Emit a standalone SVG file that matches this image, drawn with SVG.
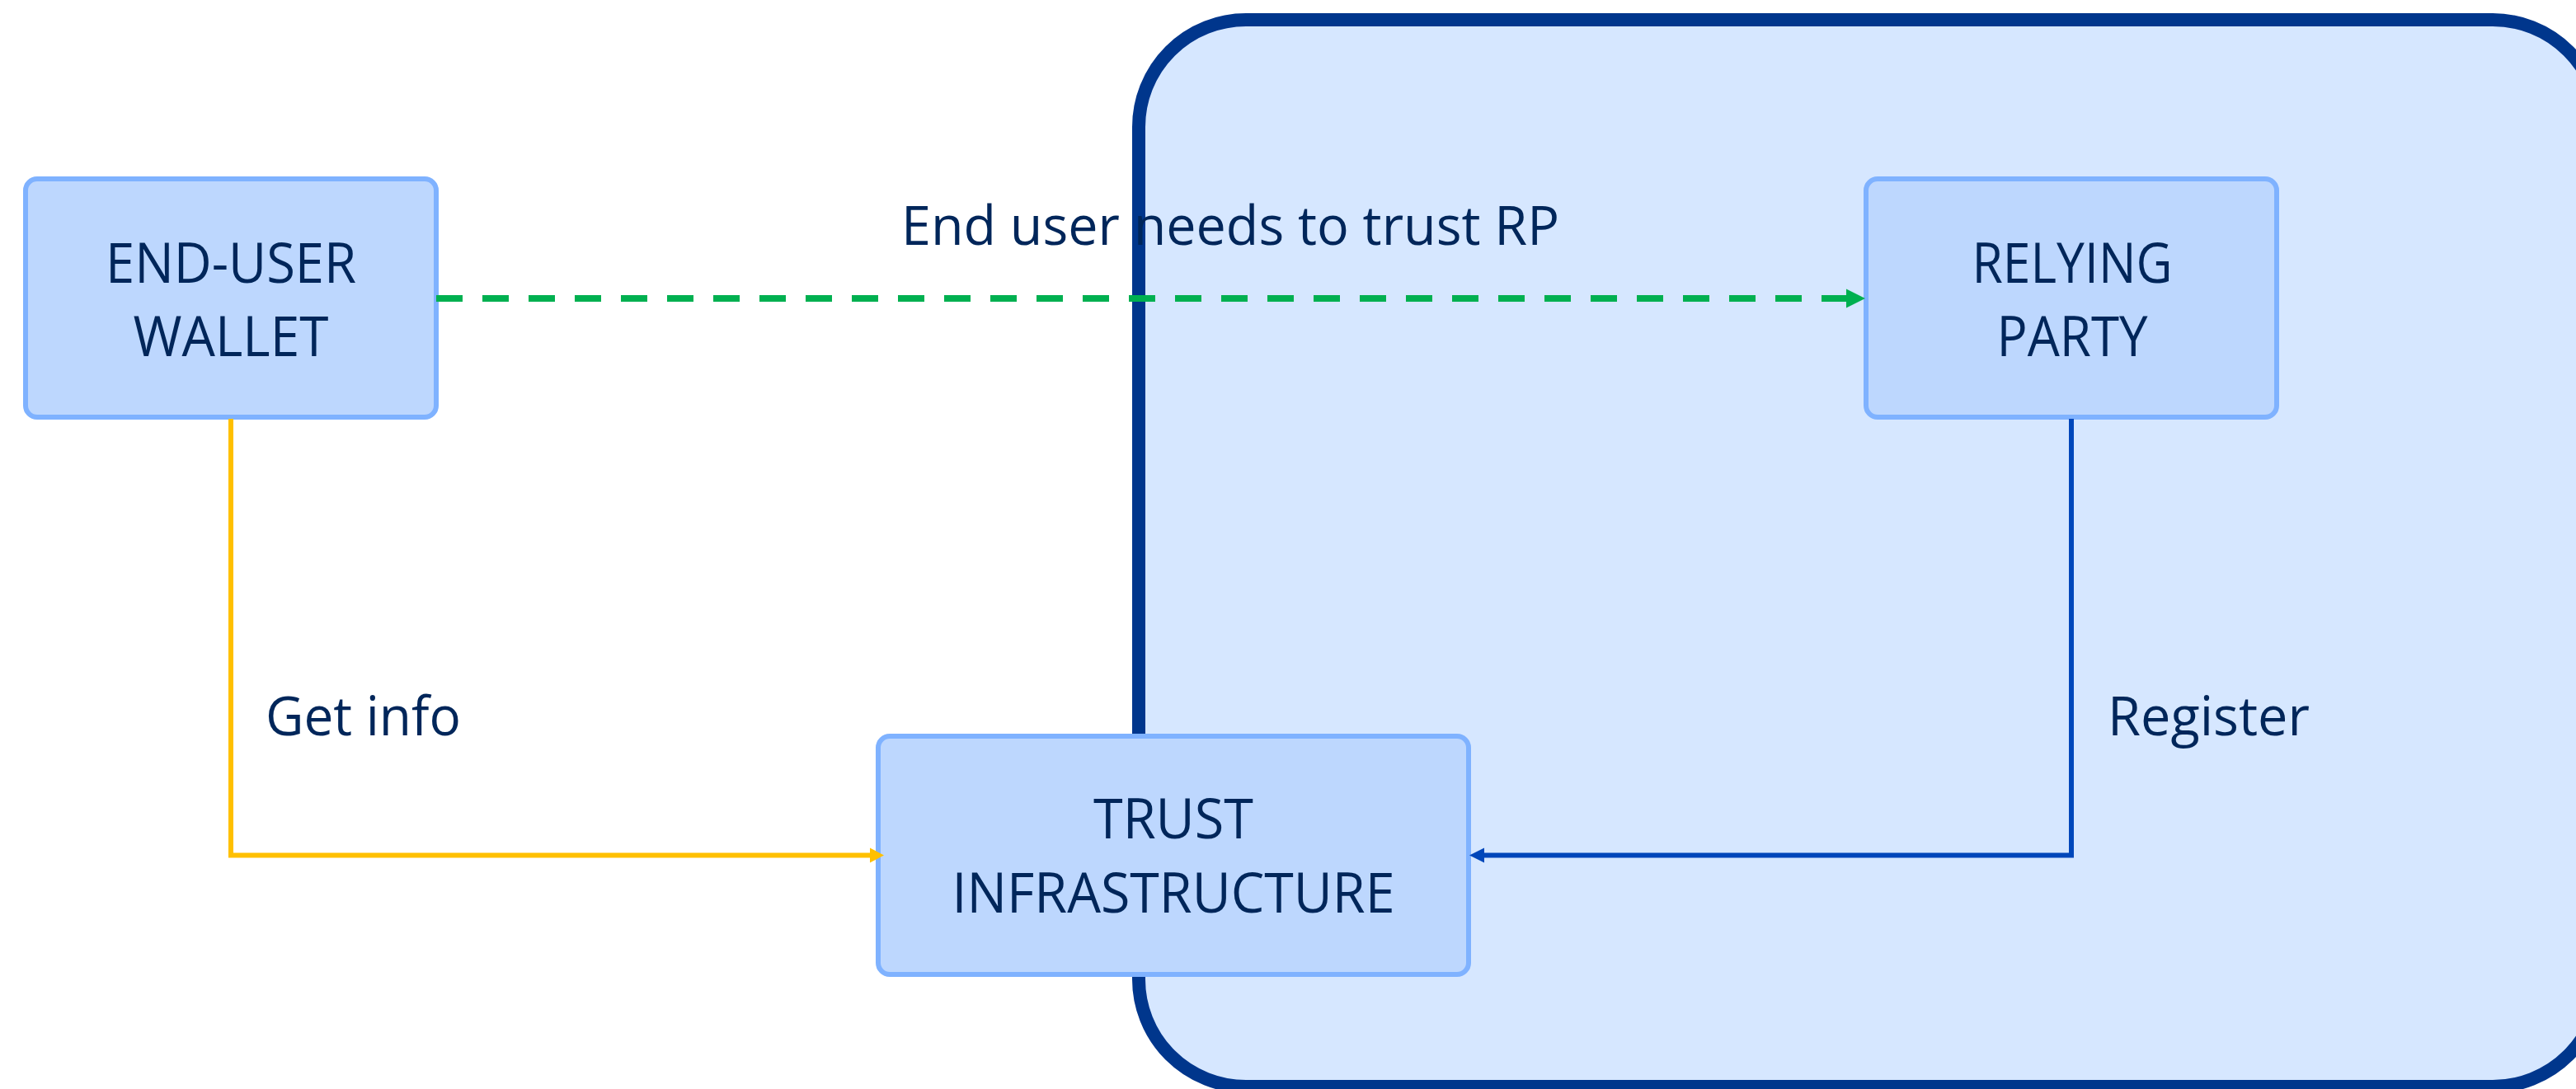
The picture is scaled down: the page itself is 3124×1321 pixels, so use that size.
<svg xmlns="http://www.w3.org/2000/svg" width="3124" height="1321" viewBox="0 0 3124 1321">
  <style>
    .node rect { fill: #BDD7FE; stroke: #7FB2FF; stroke-width: 6; }
    .txt { font-family: "Open Sans", "Noto Sans", "Liberation Sans", sans-serif; fill: #00265A; }
    .ntxt { font-size: 67px; text-anchor: middle; }
    .ltxt { font-size: 66px; }
    .conn { fill: none; }
  </style>
  <defs>
    <marker id="arrGreen" markerUnits="userSpaceOnUse" viewBox="0 -12 24 24" refX="0" refY="0" markerWidth="24" markerHeight="24" orient="auto">
      <path d="M0,-11.5 L23,0 L0,11.5 Z" fill="#00B050"/>
    </marker>
    <marker id="arrYellow" markerUnits="userSpaceOnUse" viewBox="0 -10 18 20" refX="0" refY="0" markerWidth="18" markerHeight="20" orient="auto">
      <path d="M0,-9 L17,0 L0,9 Z" fill="#FFC000"/>
    </marker>
    <marker id="arrBlue" markerUnits="userSpaceOnUse" viewBox="0 -10 18 20" refX="0" refY="0" markerWidth="18" markerHeight="20" orient="auto">
      <path d="M0,-9 L18,0 L0,9 Z" fill="#0047BA"/>
    </marker>
  </defs>

  <rect width="3124" height="1321" fill="#FFFFFF"/>

  <!-- trust domain container -->
  <g id="domain">
    <rect x="1381" y="24" width="1772" height="1294" rx="130" ry="130" fill="#D6E7FF" stroke="#00368C" stroke-width="16"/>
  </g>

  <!-- nodes -->
  <g id="wallet" class="node">
    <rect x="31" y="217" width="498" height="289" rx="14" ry="14"/>
    <text class="txt ntxt" x="280" y="343" textLength="304" lengthAdjust="spacingAndGlyphs">END-USER</text>
    <text class="txt ntxt" x="280" y="432" textLength="237" lengthAdjust="spacingAndGlyphs">WALLET</text>
  </g>

  <g id="relying-party" class="node">
    <rect x="2263" y="217" width="498" height="289" rx="14" ry="14"/>
    <text class="txt ntxt" x="2513" y="343" textLength="243" lengthAdjust="spacingAndGlyphs">RELYING</text>
    <text class="txt ntxt" x="2513" y="432" textLength="183" lengthAdjust="spacingAndGlyphs">PARTY</text>
  </g>

  <g id="trust-infrastructure" class="node">
    <rect x="1065" y="893" width="716" height="289" rx="14" ry="14"/>
    <text class="txt ntxt" x="1423" y="1017" textLength="194" lengthAdjust="spacingAndGlyphs">TRUST</text>
    <text class="txt ntxt" x="1423" y="1107" textLength="537" lengthAdjust="spacingAndGlyphs">INFRASTRUCTURE</text>
  </g>

  <!-- connectors -->
  <g id="connectors" class="conn">
    <path d="M529,362 H2239" stroke="#00B050" stroke-width="8" stroke-dasharray="32 24" marker-end="url(#arrGreen)"/>
    <path d="M280,508 V1037.5 H1055" stroke="#FFC000" stroke-width="6" marker-end="url(#arrYellow)"/>
    <path d="M2512,508 V1037.5 H1800" stroke="#0047BA" stroke-width="6" marker-end="url(#arrBlue)"/>
  </g>

  <!-- connector labels -->
  <g id="labels">
    <text class="txt ltxt" x="1093" y="297" textLength="798" lengthAdjust="spacingAndGlyphs">End user needs to trust RP</text>
    <text class="txt ltxt" x="322" y="892" textLength="237" lengthAdjust="spacingAndGlyphs">Get info</text>
    <text class="txt ltxt" x="2556" y="892" textLength="245" lengthAdjust="spacingAndGlyphs">Register</text>
  </g>
</svg>
